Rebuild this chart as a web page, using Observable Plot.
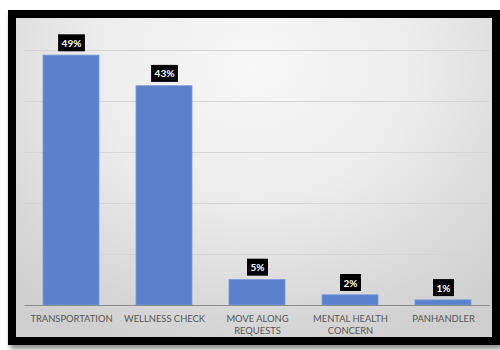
<!DOCTYPE html>
<html>
<head>
<meta charset="utf-8">
<script src="https://cdn.jsdelivr.net/npm/d3@7"></script>
<script src="https://cdn.jsdelivr.net/npm/@observablehq/plot@0.6"></script>
<style>
  html, body { margin: 0; padding: 0; background: #ffffff; }
  #wrap { position: relative; width: 500px; height: 350px; overflow: hidden; }
  #frame {
    position: absolute; left: 8px; top: 10px; width: 492px; height: 335px;
    box-sizing: border-box; border: 8px solid #000;
    background: radial-gradient(ellipse 75% 95% at 50% 15%, #f8f8f8 0%, #ececec 45%, #d6d6d6 85%, #cfcfcf 100%);
    box-shadow: 2px 4px 5px rgba(0,0,0,0.45);
  }
  #chart { position: absolute; left: 0; top: 0; }
  #chart svg { background: transparent; }
</style>
</head>
<body>
<div id="wrap">
  <div id="frame"></div>
  <div id="chart"></div>
</div>
<script>
const categories = ["TRANSPORTATION", "WELLNESS CHECK", "MOVE ALONG\nREQUESTS", "MENTAL HEALTH\nCONCERN", "PANHANDLER"];
const values = [49, 43, 5, 2, 1];
const gridTicks = [10, 20, 30, 40, 50];

const data = categories.map((c, i) => ({category: c, value: values[i]}));

const chart = Plot.plot({
  width: 500,
  height: 350,
  marginLeft: 24.5,
  marginRight: 10.5,
  marginTop: 50,
  marginBottom: 45,
  style: {background: "transparent", fontFamily: "Lato, 'Open Sans', sans-serif"},
  x: {domain: categories, paddingInner: 0.4, paddingOuter: 0.2, label: null},
  y: {domain: [0, 50], label: null, axis: null},
  marks: [
    Plot.gridY(gridTicks, {stroke: "#d4d4d4", strokeOpacity: 1, strokeWidth: 1}),
    Plot.barY(data, {x: "category", y: "value", fill: "#5b80cc", stroke: "#7b9bdc", strokeWidth: 0.8}),
    Plot.ruleY([0], {stroke: "#8a8a8a", strokeWidth: 1.2}),
    Plot.axisX({tickSize: 0, tickPadding: 8, fontSize: 9.4, fill: "#555555", lineHeight: 1.25}),
    Plot.text(data, {x: "category", y: "value", text: d => d.value + "%", dy: -12, fill: "#ffffff",
      fontWeight: "bold", fontSize: 10})
  ]
});

document.getElementById("chart").appendChild(chart);

// black boxes behind value labels
const labelTexts = new Set(values.map(v => v + "%"));
d3.select(chart).selectAll("text").filter(function() {
  return labelTexts.has(this.textContent.trim());
}).each(function() {
  const b = this.getBBox();
  const padX = 3.5, padY = 2.5;
  const t = this.getAttribute("transform");
  const rect = document.createElementNS("http://www.w3.org/2000/svg", "rect");
  rect.setAttribute("x", b.x - padX);
  rect.setAttribute("y", b.y - padY);
  rect.setAttribute("width", b.width + 2 * padX);
  rect.setAttribute("height", b.height + 2 * padY);
  rect.setAttribute("fill", "#000");
  if (t) rect.setAttribute("transform", t);
  this.parentNode.insertBefore(rect, this);
});
</script>
</body>
</html>
